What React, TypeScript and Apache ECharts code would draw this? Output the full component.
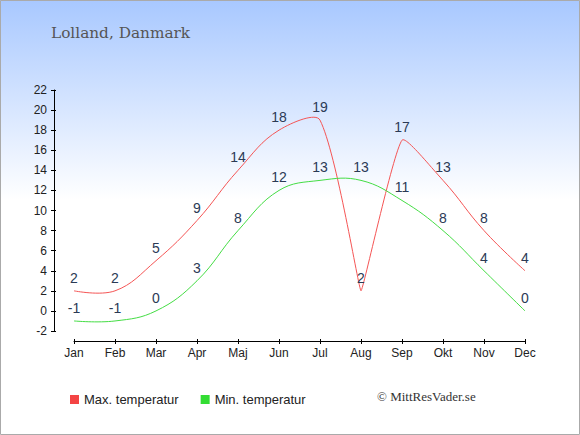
import React, { useEffect, useRef } from "react";
import * as echarts from "echarts";

const months = ["Jan", "Feb", "Mar", "Apr", "Maj", "Jun", "Jul", "Aug", "Sep", "Okt", "Nov", "Dec"];
const maxTemp = [2, 2, 5, 9, 14, 18, 19, 2, 17, 13, 8, 4];
const minTemp = [-1, -1, 0, 3, 8, 12, 13, 13, 11, 8, 4, 0];
const titleText = "Lolland, Danmark";
const legendMax = "Max. temperatur";
const legendMin = "Min. temperatur";
const copyright = "© MittResVader.se";

const SMOOTH = 0.42;

function makeCurve(values: number[], color: string, id: string) {
  return {
    type: "custom",
    id,
    name: id,
    data: values.map((v, i) => [i, v]),
    encode: { x: 0, y: 1 },
    silent: true,
    clip: false,
    renderItem: (params: any, api: any) => {
      const i = params.dataIndex;
      const n = values.length;
      if (i >= n - 1) return null;
      const P = (j: number) => api.coord([j, values[j]]);
      const ctrl = (j: number, dir: "in" | "out") => {
        const cur = P(j);
        if (j === 0 || j === n - 1) return cur;
        const prev = P(j - 1);
        const next = P(j + 1);
        const ax = cur[0] - prev[0];
        const ay = cur[1] - prev[1];
        const bx = next[0] - cur[0];
        const by = next[1] - cur[1];
        const d0 = Math.hypot(ax, ay);
        const d1 = Math.hypot(bx, by);
        const cosTurn = (ax * bx + ay * by) / (d0 * d1);
        const g = Math.pow((1 + cosTurn) / 2, 0.75);
        const vx = next[0] - prev[0];
        const vy = next[1] - prev[1];
        const ratio = d1 / (d0 + d1);
        const s = SMOOTH * g;
        if (dir === "in") {
          return [cur[0] - vx * s * (1 - ratio), cur[1] - vy * s * (1 - ratio)];
        }
        return [cur[0] + vx * s * ratio, cur[1] + vy * s * ratio];
      };
      const p0 = P(i);
      const p1 = P(i + 1);
      const c1 = ctrl(i, "out");
      const c2 = ctrl(i + 1, "in");
      return {
        type: "bezierCurve",
        shape: {
          x1: p0[0],
          y1: p0[1],
          x2: p1[0],
          y2: p1[1],
          cpx1: c1[0],
          cpy1: c1[1],
          cpx2: c2[0],
          cpy2: c2[1],
        },
        style: { stroke: color, fill: "none", lineWidth: 1 },
      };
    },
  };
}

export default function App() {
  const ref = useRef<HTMLDivElement>(null);
  useEffect(() => {
    if (!ref.current) return;
    const chart = echarts.init(ref.current, null, { renderer: "svg" });
    const labelStyle = {
      show: true,
      position: "top" as const,
      distance: 6,
      fontSize: 14,
      color: "#2b3a55",
      fontFamily: "Liberation Sans, Arial, sans-serif",
    };
    const yBase = {
      type: "value" as const,
      min: -2,
      max: 22,
      interval: 2,
      position: "left" as const,
      offset: 20,
      splitLine: { show: false },
    };
    const xBase = {
      type: "category" as const,
      data: months,
      boundaryGap: false,
      position: "bottom" as const,
      offset: 10,
      splitLine: { show: false },
    };
    chart.setOption({
      animation: false,
      backgroundColor: {
        type: "linear",
        x: 0,
        y: 0,
        x2: 0,
        y2: 1,
        colorStops: [
          { offset: 0, color: "#a8c8ff" },
          { offset: 0.46, color: "#ffffff" },
          { offset: 1, color: "#ffffff" },
        ],
      },
      title: {
        text: titleText,
        left: 46,
        top: 20,
        textStyle: {
          fontFamily: "DejaVu Serif, serif",
          fontSize: 15.3,
          fontWeight: "normal",
          color: "#555555",
        },
      },
      legend: {
        left: 65,
        top: 388,
        itemWidth: 9,
        itemHeight: 9,
        itemGap: 22,
        icon: "rect",
        textStyle: {
          fontSize: 13,
          color: "#222222",
          fontFamily: "Liberation Sans, Arial, sans-serif",
        },
        data: [legendMax, legendMin],
      },
      graphic: [
        {
          type: "text",
          left: 377,
          top: 390,
          style: {
            text: copyright,
            font: "13px 'Liberation Serif', serif",
            fill: "#333333",
          },
        },
        {
          type: "rect",
          shape: { x: 0.5, y: 0.5, width: 579, height: 434 },
          style: { fill: "none", stroke: "#aaaaaa", lineWidth: 1 },
          silent: true,
        },
      ],
      grid: { left: 74, right: 55, top: 90, bottom: 104 },
      xAxis: [
        {
          ...xBase,
          axisLine: { show: true, onZero: false, lineStyle: { color: "#000", width: 1 } },
          axisTick: { show: true, length: 3, lineStyle: { color: "#000" } },
          axisLabel: {
            fontSize: 12,
            color: "#222",
            margin: 6,
            fontFamily: "Liberation Sans, Arial, sans-serif",
          },
        },
        {
          ...xBase,
          axisLine: { show: false, onZero: false },
          axisTick: { show: true, inside: true, length: 2, lineStyle: { color: "#000" } },
          axisLabel: { show: false },
        },
      ],
      yAxis: [
        {
          ...yBase,
          axisLine: { show: true, lineStyle: { color: "#000", width: 1 } },
          axisTick: { show: true, length: 3, lineStyle: { color: "#000" } },
          axisLabel: {
            fontSize: 12,
            color: "#222",
            margin: 7,
            fontFamily: "Liberation Sans, Arial, sans-serif",
          },
        },
        {
          ...yBase,
          axisLine: { show: false },
          axisTick: { show: true, inside: true, length: 2, lineStyle: { color: "#000" } },
          axisLabel: { show: false },
        },
      ],
      series: [
        makeCurve(maxTemp, "#f55555", "maxCurve"),
        makeCurve(minTemp, "#44dd44", "minCurve"),
        {
          name: legendMax,
          type: "line",
          data: maxTemp,
          symbol: "circle",
          symbolSize: 0,
          color: "#f44444",
          lineStyle: { width: 1, opacity: 0 },
          label: labelStyle,
        },
        {
          name: legendMin,
          type: "line",
          data: minTemp,
          symbol: "circle",
          symbolSize: 0,
          color: "#33dd33",
          lineStyle: { width: 1, opacity: 0 },
          label: labelStyle,
        },
      ],
    });
    return () => chart.dispose();
  }, []);
  return (
    <div
      ref={ref}
      style={{ position: "absolute", left: 0, top: 0, width: 580, height: 435 }}
    />
  );
}
